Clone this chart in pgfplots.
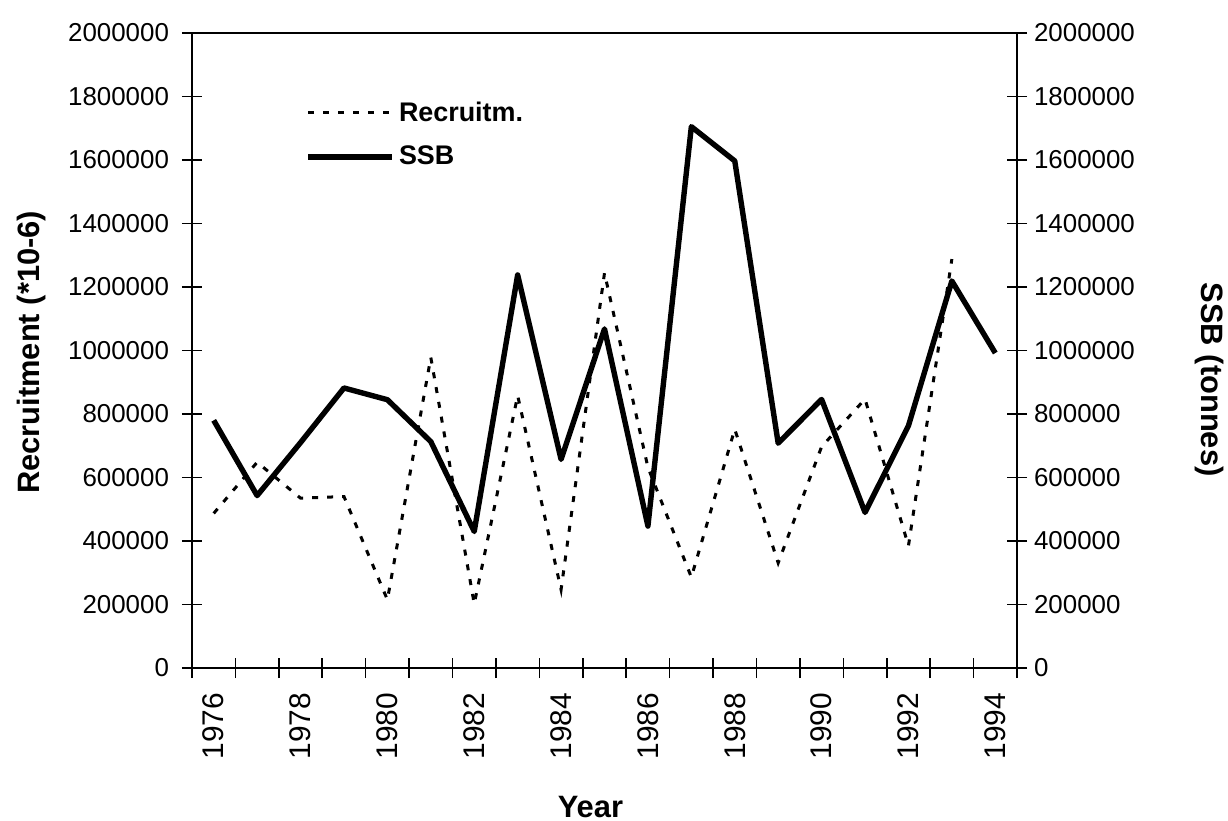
\documentclass[border=0pt]{standalone}
\usepackage{pgfplots}
\pgfplotsset{compat=1.18}
\usepackage{fontspec}
\setmainfont{Liberation Sans}
\begin{document}
\begin{tikzpicture}
\useasboundingbox (-96bp,-76.5bp) rectangle (518bp,334bp);
\pgfplotsset{
  base/.style={
    scale only axis,
    width=412.5bp, height=317.5bp,
    xmin=-0.5, xmax=18.5,
    ymin=0, ymax=2000000,
    ytick={0,200000,400000,600000,800000,1000000,1200000,1400000,1600000,1800000,2000000},
    yticklabels={0,200000,400000,600000,800000,1000000,1200000,1400000,1600000,1800000,2000000},
    scaled y ticks=false,
    tick align=center,
    major tick length=10bp,
    tick style={line width=0.8bp, black},
    axis line style={line width=1.1bp},
    ticklabel style={font=\fontsize{13}{15}\selectfont},
    label style={font=\bfseries\fontsize{15.5}{18}\selectfont},
  }
}
\begin{axis}[
  base,
  xtick={-0.5,0.5,...,18.5},
  xticklabels={,,,,,,,,,,,,,,,,,,,,},
  extra x ticks={0,2,4,6,8,10,12,14,16,18},
  extra x tick labels={1976,1978,1980,1982,1984,1986,1988,1990,1992,1994},
  extra x tick style={major tick length=0pt, xticklabel style={rotate=90, anchor=east, xshift=-9bp, font=\fontsize{15}{17}\selectfont}},
  ytick pos=left,
  xtick pos=bottom,
  yticklabel style={xshift=-3bp},
  xlabel={Year},
  xlabel style={at={(rel axis cs:0.483,0)}, anchor=center, yshift=-69.5bp},
  ylabel={Recruitment (*10-6)},
  ylabel style={at={(rel axis cs:-0.195,0.497)}, anchor=center},
  legend style={draw=none, fill=none, at={(rel axis cs:0.130,0.905)}, anchor=north west,
    font=\bfseries\fontsize{13.5}{16}\selectfont, row sep=7bp,
    /tikz/every even column/.append style={column sep=0bp}},
  legend cell align=left,
  legend image code/.code={\draw[#1] (0bp,0bp) -- (42bp,0bp);},
]
\addplot[black, line width=1.5bp, dash pattern=on 3bp off 4.5bp] coordinates {
(0,487000) (1,648000) (2,535000) (3,540000) (4,215000) (5,978000) (6,202000)
(7,858000) (8,247000) (9,1244000) (10,632000) (11,286000) (12,752000)
(13,331000) (14,697000) (15,847000) (16,385000) (17,1288000)
};
\addlegendentry{Recruitm.}
\addplot[black, line width=2.7bp, line join=round] coordinates {
(0,780000) (1,543000) (2,710000) (3,882000) (4,845000) (5,713000) (6,430000)
(7,1238000) (8,657000) (9,1068000) (10,447000) (11,1705000) (12,1597000)
(13,708000) (14,846000) (15,490000) (16,763000) (17,1219000) (18,992000)
};
\addlegendentry{SSB}
\end{axis}
\begin{axis}[
  base,
  axis x line=none,
  axis y line*=right,
  yticklabel style={xshift=0bp},
  ylabel={SSB (tonnes)},
  ylabel style={at={(rel axis cs:1.233,0.454)}, anchor=center, rotate=180},
]
\end{axis}
\end{tikzpicture}
\end{document}
